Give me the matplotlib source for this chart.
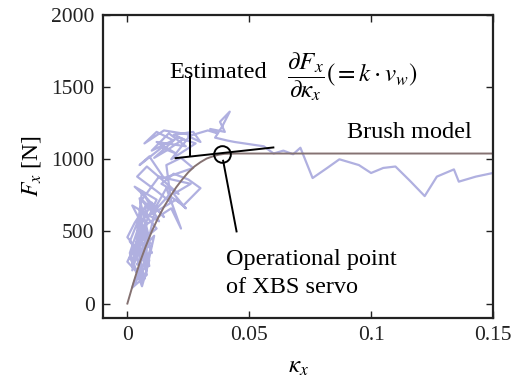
import matplotlib
matplotlib.use("Agg")
import matplotlib.pyplot as plt

plt.rcParams['font.family'] = ['Liberation Serif', 'DejaVu Serif']
plt.rcParams['mathtext.fontset'] = 'stix'

# Measured data (slip ratio, longitudinal force)
meas_kappa = [0.003, 0.006, 0.001, 0.005, 0.008, 0.002, 0.007, 0.004, 0.009, 0.003,
              0.006, 0.000, 0.005, 0.008, 0.003, 0.007, 0.010, 0.004, 0.001, 0.006,
              0.009, 0.005, 0.002, 0.008, 0.004, 0.007, 0.011, 0.003, 0.006, 0.009,
              0.001, 0.005, 0.010, 0.007, 0.002, 0.006, 0.012, 0.004, 0.008, 0.003,
              0.000, 0.007, 0.011, 0.005, 0.009, 0.002, 0.013, 0.006, 0.004, 0.010,
              0.015, 0.008, 0.003, 0.012, 0.007, 0.018, 0.022, 0.016, 0.010, 0.020,
              0.024, 0.019, 0.026, 0.013, 0.006, 0.011, 0.017, 0.023, 0.030, 0.025,
              0.019, 0.014, 0.021, 0.008, 0.004, 0.012, 0.018, 0.016, 0.022, 0.027,
              0.015, 0.009, 0.005, 0.014, 0.020, 0.012, 0.024, 0.017, 0.010, 0.021,
              0.028, 0.018, 0.026, 0.015, 0.007, 0.012, 0.019, 0.011, 0.016, 0.023,
              0.019, 0.027, 0.030, 0.025, 0.033, 0.037, 0.034, 0.040, 0.038, 0.042,
              0.039, 0.036, 0.041, 0.044, 0.048, 0.052, 0.056, 0.060, 0.064, 0.068,
              0.071, 0.076, 0.082, 0.087, 0.091, 0.095, 0.100, 0.105, 0.110, 0.116,
              0.122, 0.127, 0.134, 0.136, 0.143, 0.150, 0.160]
meas_force = [240, 150, 320, 420, 200, 110, 360, 270, 440, 380,
              180, 290, 470, 330, 140, 250, 410, 500, 350, 120,
              300, 450, 230, 560, 390, 170, 470, 320, 520, 260,
              430, 600, 350, 480, 270, 640, 520, 410, 690, 560,
              460, 310, 620, 730, 450, 680, 570, 780, 500, 700,
              600, 730, 810, 720, 540, 660, 520, 800, 620, 720,
              660, 760, 830, 880, 720, 640, 750, 680, 800, 860,
              900, 830, 760, 950, 880, 780, 700, 960, 1010, 940,
              870, 1020, 960, 1080, 1040, 1120, 1090, 1180, 1060, 1150,
              1110, 1000, 1170, 1200, 1110, 1190, 1130, 1010, 1060, 1140,
              1170, 1190, 1120, 1160, 1200, 1180, 1210, 1190, 1260, 1330,
              1230, 1150, 1130, 1120, 1110, 1100, 1090, 1040, 1060, 1035,
              1080, 870, 940, 1000, 980, 960, 905, 940, 950, 850,
              745, 880, 930, 845, 880, 905, 920]

# Brush model curve
brush_kappa = [0, 0.0025, 0.005, 0.0075, 0.010, 0.0125, 0.015, 0.0175, 0.020, 0.0225,
               0.025, 0.0275, 0.030, 0.0325, 0.035, 0.0375, 0.040, 0.045, 0.15]
brush_force = [0, 145, 280, 395, 500, 590, 670, 740, 805, 860,
               910, 950, 980, 1005, 1020, 1032, 1038, 1040, 1040]

# Operational point and tangent
op_kappa, op_force = 0.039, 1040
tangent_kappa = [0.0198, 0.0599]
tangent_force = [1008, 1082]

fig = plt.figure(figsize=(5.14, 3.91), dpi=100)
ax = fig.add_axes([0.2004, 0.1867, 0.7586, 0.7749])

ax.plot(meas_kappa, meas_force, color='#b0b0e0', lw=1.6, zorder=1)
ax.plot(brush_kappa, brush_force, color='#857272', lw=1.4, zorder=2)
ax.plot(tangent_kappa, tangent_force, color='black', lw=1.4, zorder=3)
ax.plot([op_kappa], [op_force], marker='o', ms=12, mfc='none', mec='black', mew=1.4, zorder=4)

# leader lines
ax.plot([0.0257, 0.0257], [1573, 1024], color='black', lw=1.4, zorder=3)
ax.plot([0.0393, 0.0448], [990, 500], color='black', lw=1.4, zorder=3)

ax.text(0.0173, 1605, 'Estimated', fontsize=17.5, va='center', ha='left')
ax.text(0.0655, 1570, r'$\dfrac{\partial F_x}{\partial \kappa_x}(= k\cdot v_w)$',
        fontsize=18, va='center', ha='left')
ax.text(0.0903, 1183, 'Brush model', fontsize=17.5, va='center', ha='left')
ax.text(0.0404, 304, 'Operational point', fontsize=17.5, va='center', ha='left')
ax.text(0.0404, 111, 'of XBS servo', fontsize=17.5, va='center', ha='left')

ax.set_xlim(-0.01, 0.15)
ax.set_ylim(-100, 2000)
ax.set_xticks([0, 0.05, 0.1, 0.15])
ax.set_xticklabels(['0', '0.05', '0.1', '0.15'])
ax.set_yticks([0, 500, 1000, 1500, 2000])
ax.tick_params(direction='in', top=True, right=True, length=5, width=1.0,
               labelsize=15.5, colors='#222222', pad=6)
for s in ax.spines.values():
    s.set_linewidth(1.6)
    s.set_color('#222222')

ax.set_xlabel(r'$\kappa_x$', fontsize=18, labelpad=8)
ax.set_ylabel(r'$F_x$ [N]', fontsize=17, labelpad=6)

fig.savefig('out.png', dpi=100)
